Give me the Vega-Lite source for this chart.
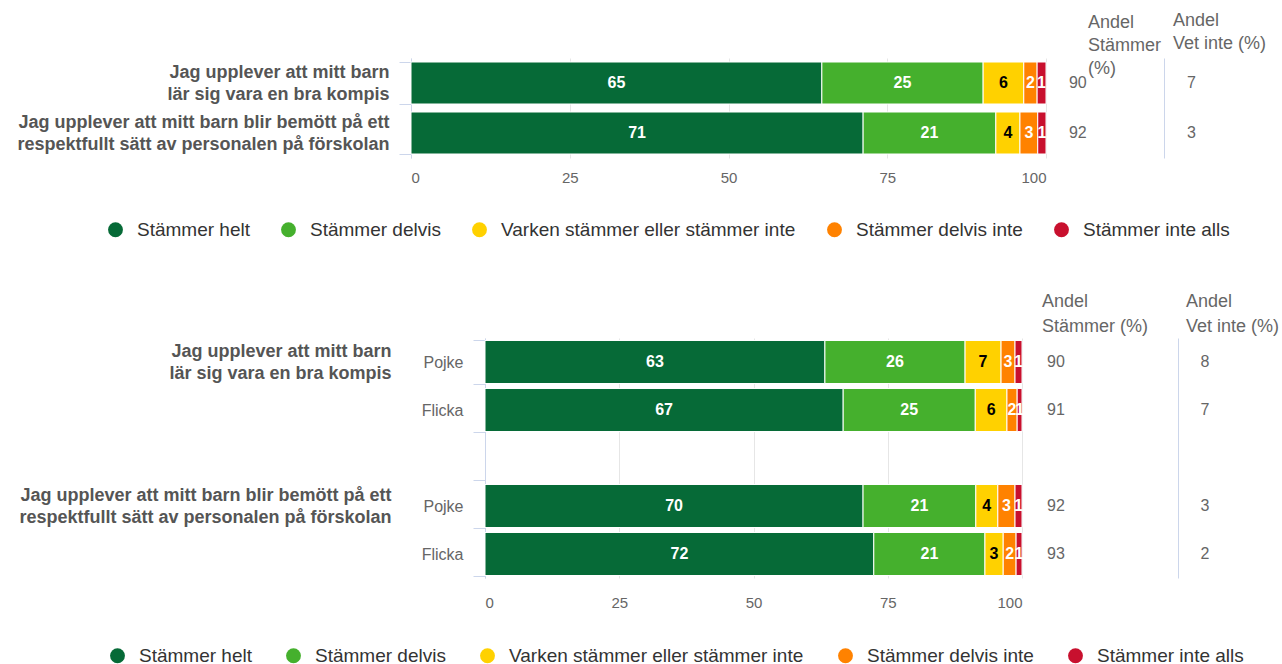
{
  "$schema": "https://vega.github.io/schema/vega-lite/v6.json",
  "padding": {"left": 16, "top": 12, "right": 0, "bottom": 0},
  "datasets": {
    "top": [
      {"question": "Jag upplever att mitt barn\nlär sig vara en bra kompis", "answer": "Stämmer helt", "order": 1, "value": 64.7},
      {"question": "Jag upplever att mitt barn\nlär sig vara en bra kompis", "answer": "Stämmer delvis", "order": 2, "value": 25.4},
      {"question": "Jag upplever att mitt barn\nlär sig vara en bra kompis", "answer": "Varken stämmer eller stämmer inte", "order": 3, "value": 6.4},
      {"question": "Jag upplever att mitt barn\nlär sig vara en bra kompis", "answer": "Stämmer delvis inte", "order": 4, "value": 2.1},
      {"question": "Jag upplever att mitt barn\nlär sig vara en bra kompis", "answer": "Stämmer inte alls", "order": 5, "value": 1.4},
      {"question": "Jag upplever att mitt barn blir bemött på ett\nrespektfullt sätt av personalen på förskolan", "answer": "Stämmer helt", "order": 1, "value": 71.2},
      {"question": "Jag upplever att mitt barn blir bemött på ett\nrespektfullt sätt av personalen på förskolan", "answer": "Stämmer delvis", "order": 2, "value": 20.9},
      {"question": "Jag upplever att mitt barn blir bemött på ett\nrespektfullt sätt av personalen på förskolan", "answer": "Varken stämmer eller stämmer inte", "order": 3, "value": 3.8},
      {"question": "Jag upplever att mitt barn blir bemött på ett\nrespektfullt sätt av personalen på förskolan", "answer": "Stämmer delvis inte", "order": 4, "value": 2.8},
      {"question": "Jag upplever att mitt barn blir bemött på ett\nrespektfullt sätt av personalen på förskolan", "answer": "Stämmer inte alls", "order": 5, "value": 1.3}
    ],
    "topSummary": [
      {"question": "Jag upplever att mitt barn\nlär sig vara en bra kompis", "stammer": 90, "vetinte": 7},
      {"question": "Jag upplever att mitt barn blir bemött på ett\nrespektfullt sätt av personalen på förskolan", "stammer": 92, "vetinte": 3}
    ],
    "bottom": [
      {"key": "q1|Pojke", "answer": "Stämmer helt", "order": 1, "value": 63.3},
      {"key": "q1|Pojke", "answer": "Stämmer delvis", "order": 2, "value": 26.1},
      {"key": "q1|Pojke", "answer": "Varken stämmer eller stämmer inte", "order": 3, "value": 6.7},
      {"key": "q1|Pojke", "answer": "Stämmer delvis inte", "order": 4, "value": 2.6},
      {"key": "q1|Pojke", "answer": "Stämmer inte alls", "order": 5, "value": 1.3},
      {"key": "q1|Flicka", "answer": "Stämmer helt", "order": 1, "value": 66.7},
      {"key": "q1|Flicka", "answer": "Stämmer delvis", "order": 2, "value": 24.6},
      {"key": "q1|Flicka", "answer": "Varken stämmer eller stämmer inte", "order": 3, "value": 5.9},
      {"key": "q1|Flicka", "answer": "Stämmer delvis inte", "order": 4, "value": 1.9},
      {"key": "q1|Flicka", "answer": "Stämmer inte alls", "order": 5, "value": 0.9},
      {"key": "q2|Pojke", "answer": "Stämmer helt", "order": 1, "value": 70.4},
      {"key": "q2|Pojke", "answer": "Stämmer delvis", "order": 2, "value": 21.0},
      {"key": "q2|Pojke", "answer": "Varken stämmer eller stämmer inte", "order": 3, "value": 4.1},
      {"key": "q2|Pojke", "answer": "Stämmer delvis inte", "order": 4, "value": 3.2},
      {"key": "q2|Pojke", "answer": "Stämmer inte alls", "order": 5, "value": 1.3},
      {"key": "q2|Flicka", "answer": "Stämmer helt", "order": 1, "value": 72.4},
      {"key": "q2|Flicka", "answer": "Stämmer delvis", "order": 2, "value": 20.7},
      {"key": "q2|Flicka", "answer": "Varken stämmer eller stämmer inte", "order": 3, "value": 3.4},
      {"key": "q2|Flicka", "answer": "Stämmer delvis inte", "order": 4, "value": 2.4},
      {"key": "q2|Flicka", "answer": "Stämmer inte alls", "order": 5, "value": 1.1}
    ],
    "bottomSummary": [
      {"key": "q1|Pojke", "stammer": 90, "vetinte": 8},
      {"key": "q1|Flicka", "stammer": 91, "vetinte": 7},
      {"key": "q2|Pojke", "stammer": 92, "vetinte": 3},
      {"key": "q2|Flicka", "stammer": 93, "vetinte": 2}
    ]
  },
  "vconcat": [
    {
      "hconcat": [
        {
          "width": 635,
          "height": 100,
          "data": {"name": "top"},
          "encoding": {
            "y": {
              "field": "question", "type": "nominal",
              "scale": {"domain": ["Jag upplever att mitt barn\nlär sig vara en bra kompis", "Jag upplever att mitt barn blir bemött på ett\nrespektfullt sätt av personalen på förskolan"], "paddingInner": 0.16, "paddingOuter": 0.08},
              "axis": {"title": null, "labelExpr": "split(datum.label, '\\n')", "labelFontSize": 18, "labelFontWeight": "bold", "labelColor": "#555555", "labelLineHeight": 22, "labelOffset": -11, "labelPadding": 10, "labelLimit": 0, "domain": true, "domainColor": "#ccd6eb", "ticks": true, "tickColor": "#ccd6eb", "tickSize": 12, "tickBand": "extent", "grid": false}
            },
            "x": {
              "field": "value", "type": "quantitative", "stack": "zero",
              "scale": {"domain": [0, 100]},
              "axis": {"title": null, "values": [0, 25, 50, 75, 100], "grid": true, "gridColor": "#e6e6e6", "domain": false, "ticks": false, "labelFontSize": 15, "labelColor": "#666666", "labelPadding": 12}
            },
            "order": {"field": "order", "type": "quantitative"}
          },
          "layer": [
            {
              "mark": {"type": "bar", "stroke": "white", "strokeWidth": 1},
              "encoding": {
                "color": {
                  "field": "answer", "type": "nominal",
                  "scale": {"domain": ["Stämmer helt", "Stämmer delvis", "Varken stämmer eller stämmer inte", "Stämmer delvis inte", "Stämmer inte alls"], "range": ["#066a37", "#45b02d", "#ffd100", "#ff8200", "#c8102e"]},
                  "legend": {"title": null, "orient": "none", "legendX": -305, "legendY": 162, "direction": "horizontal", "symbolType": "circle", "symbolSize": 220, "symbolOpacity": 1, "symbolStrokeWidth": 0, "labelFontSize": 19, "labelColor": "#333333", "labelLimit": 0, "columnPadding": 29, "labelOffset": 12}
                }
              }
            },
            {
              "mark": {"type": "text", "fontSize": 16, "fontWeight": "bold"},
              "encoding": {
                "x": {"field": "value", "type": "quantitative", "stack": "zero", "bandPosition": 0.5},
                "detail": {"field": "answer"},
                "text": {"field": "value", "type": "quantitative", "format": ".0f"},
                "color": {"condition": {"test": "datum.answer === 'Varken stämmer eller stämmer inte'", "value": "#000000"}, "value": "#ffffff"}
              }
            }
          ]
        },
        {
          "width": 118,
          "height": 100,
          "data": {"name": "topSummary"},
          "title": {"text": ["Andel", "Stämmer", "(%)"], "anchor": "start", "dx": 42, "offset": -20, "fontSize": 18, "fontWeight": "normal", "color": "#666666", "lineHeight": 23},
          "mark": {"type": "text", "fontSize": 16, "color": "#666666"},
          "encoding": {
            "y": {"field": "question", "type": "nominal", "scale": {"domain": ["Jag upplever att mitt barn\nlär sig vara en bra kompis", "Jag upplever att mitt barn blir bemött på ett\nrespektfullt sätt av personalen på förskolan"], "paddingInner": 0.16, "paddingOuter": 0.08}, "axis": null},
            "x": {"datum": "Andel Stämmer", "type": "nominal", "scale": {"type": "band", "paddingInner": 0, "paddingOuter": 0}, "bandPosition": 0.27, "axis": null},
            "text": {"field": "stammer", "type": "quantitative"}
          }
        },
        {
          "width": 119,
          "height": 100,
          "data": {"name": "topSummary"},
          "title": {"text": ["Andel", "Vet inte (%)"], "anchor": "start", "dx": 9, "offset": 5, "fontSize": 18, "fontWeight": "normal", "color": "#666666", "lineHeight": 23},
          "mark": {"type": "text", "fontSize": 16, "color": "#666666"},
          "encoding": {
            "y": {"field": "question", "type": "nominal", "scale": {"domain": ["Jag upplever att mitt barn\nlär sig vara en bra kompis", "Jag upplever att mitt barn blir bemött på ett\nrespektfullt sätt av personalen på förskolan"], "paddingInner": 0.16, "paddingOuter": 0.08}, "axis": {"title": null, "labels": false, "ticks": false, "grid": false, "domain": true, "domainColor": "#ccd6eb"}},
            "x": {"datum": "Andel Vet inte", "type": "nominal", "scale": {"type": "band", "paddingInner": 0, "paddingOuter": 0}, "bandPosition": 0.23, "axis": null},
            "text": {"field": "vetinte", "type": "quantitative"}
          }
        }
      ],
      "spacing": 0,
      "bounds": "flush"
    },
    {
      "hconcat": [
        {
          "width": 74,
          "height": 240,
          "data": {"name": "bottom"},
          "mark": {"type": "point", "opacity": 0},
          "encoding": {
            "y": {
              "field": "key", "type": "nominal",
              "scale": {"domain": ["q1|Pojke", "q1|Flicka", "blank", "q2|Pojke", "q2|Flicka"], "paddingInner": 0.104, "paddingOuter": 0.052},
              "axis": {"title": null, "labelExpr": "datum.label == 'q1|Pojke' ? ['Jag upplever att mitt barn', 'lär sig vara en bra kompis'] : datum.label == 'q2|Pojke' ? ['Jag upplever att mitt barn blir bemött på ett', 'respektfullt sätt av personalen på förskolan'] : ''", "labelFontSize": 18, "labelFontWeight": "bold", "labelColor": "#555555", "labelLineHeight": 22, "labelOffset": -11, "labelPadding": 20, "labelLimit": 0, "domain": false, "ticks": false, "grid": false}
            }
          }
        },
        {
          "width": 537,
          "height": 240,
          "data": {"name": "bottom"},
          "encoding": {
            "y": {
              "field": "key", "type": "nominal",
              "scale": {"domain": ["q1|Pojke", "q1|Flicka", "blank", "q2|Pojke", "q2|Flicka"], "paddingInner": 0.104, "paddingOuter": 0.052},
              "axis": {"title": null, "labelExpr": "datum.label == 'blank' ? '' : split(datum.label, '|')[1]", "labelFontSize": 16, "labelColor": "#666666", "labelPadding": 10, "labelLimit": 0, "domain": true, "domainColor": "#ccd6eb", "ticks": true, "tickColor": "#ccd6eb", "tickSize": 12, "tickBand": "extent", "grid": false}
            },
            "x": {
              "field": "value", "type": "quantitative", "stack": "zero",
              "scale": {"domain": [0, 100]},
              "axis": {"title": null, "values": [0, 25, 50, 75, 100], "grid": true, "gridColor": "#e6e6e6", "domain": false, "ticks": false, "labelFontSize": 15, "labelColor": "#666666", "labelPadding": 17}
            },
            "order": {"field": "order", "type": "quantitative"}
          },
          "layer": [
            {
              "mark": {"type": "bar", "stroke": "white", "strokeWidth": 1},
              "encoding": {
                "color": {
                  "field": "answer", "type": "nominal",
                  "scale": {"domain": ["Stämmer helt", "Stämmer delvis", "Varken stämmer eller stämmer inte", "Stämmer delvis inte", "Stämmer inte alls"], "range": ["#066a37", "#45b02d", "#ffd100", "#ff8200", "#c8102e"]},
                  "legend": {"title": null, "orient": "none", "legendX": -303, "legendY": 308, "direction": "horizontal", "symbolType": "circle", "symbolSize": 220, "symbolOpacity": 1, "symbolStrokeWidth": 0, "labelFontSize": 19, "labelColor": "#333333", "labelLimit": 0, "columnPadding": 32, "labelOffset": 12}
                }
              }
            },
            {
              "mark": {"type": "text", "fontSize": 16, "fontWeight": "bold"},
              "encoding": {
                "x": {"field": "value", "type": "quantitative", "stack": "zero", "bandPosition": 0.5},
                "detail": {"field": "answer"},
                "text": {"field": "value", "type": "quantitative", "format": ".0f"},
                "color": {"condition": {"test": "datum.answer === 'Varken stämmer eller stämmer inte'", "value": "#000000"}, "value": "#ffffff"}
              }
            }
          ]
        },
        {
          "width": 156,
          "height": 240,
          "data": {"name": "bottomSummary"},
          "title": {"text": ["Andel", "Stämmer (%)"], "anchor": "start", "dx": 20, "offset": 2, "fontSize": 18, "fontWeight": "normal", "color": "#666666", "lineHeight": 25},
          "mark": {"type": "text", "fontSize": 16, "color": "#666666"},
          "encoding": {
            "y": {"field": "key", "type": "nominal", "scale": {"domain": ["q1|Pojke", "q1|Flicka", "blank", "q2|Pojke", "q2|Flicka"], "paddingInner": 0.104, "paddingOuter": 0.052}, "axis": null},
            "x": {"datum": "Andel Stämmer", "type": "nominal", "scale": {"type": "band", "paddingInner": 0, "paddingOuter": 0}, "bandPosition": 0.218, "axis": null},
            "text": {"field": "stammer", "type": "quantitative"}
          }
        },
        {
          "width": 105,
          "height": 240,
          "data": {"name": "bottomSummary"},
          "title": {"text": ["Andel", "Vet inte (%)"], "anchor": "start", "dx": 8, "offset": 2, "fontSize": 18, "fontWeight": "normal", "color": "#666666", "lineHeight": 25},
          "mark": {"type": "text", "fontSize": 16, "color": "#666666"},
          "encoding": {
            "y": {"field": "key", "type": "nominal", "scale": {"domain": ["q1|Pojke", "q1|Flicka", "blank", "q2|Pojke", "q2|Flicka"], "paddingInner": 0.104, "paddingOuter": 0.052}, "axis": {"title": null, "labels": false, "ticks": false, "grid": false, "domain": true, "domainColor": "#ccd6eb"}},
            "x": {"datum": "Andel Vet inte", "type": "nominal", "scale": {"type": "band", "paddingInner": 0, "paddingOuter": 0}, "bandPosition": 0.257, "axis": null},
            "text": {"field": "vetinte", "type": "quantitative"}
          }
        }
      ],
      "spacing": 0,
      "bounds": "flush"
    }
  ],
  "spacing": 53,
  "resolve": {"scale": {"color": "independent"}, "legend": {"color": "independent"}},
  "config": {
    "font": "Liberation Sans",
    "view": {"stroke": null},
    "background": "white"
  }
}
